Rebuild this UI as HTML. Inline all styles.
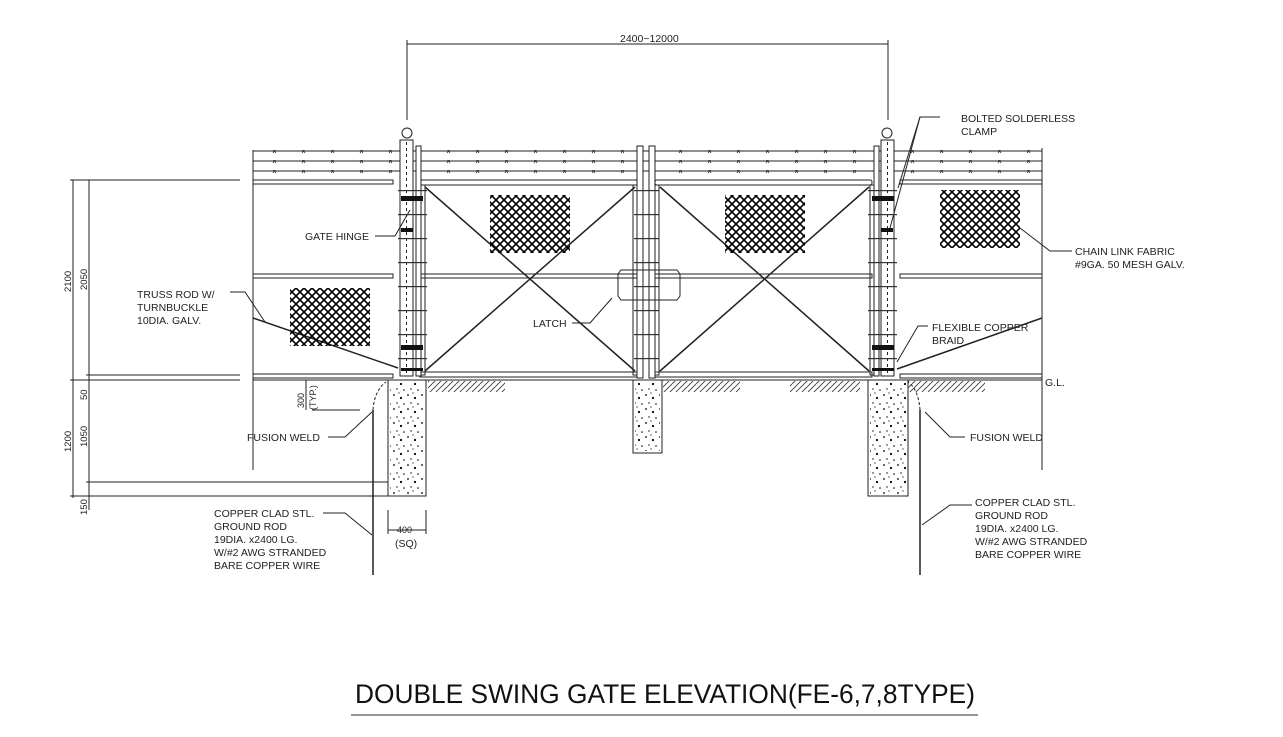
<!DOCTYPE html>
<html><head><meta charset="utf-8"><style>
html,body{margin:0;padding:0;background:#fff;}
svg{display:block;font-family:"Liberation Sans",sans-serif;}
text{fill:#222;}
</style></head><body>
<svg width="1283" height="737" viewBox="0 0 1283 737" xmlns="http://www.w3.org/2000/svg">
<defs>
<pattern id="mesh" width="8" height="8" patternUnits="userSpaceOnUse">
<path d="M0 0L8 8M8 0L0 8" stroke="#000" stroke-width="1.6"/>
</pattern>
<pattern id="xw" width="29" height="10" patternUnits="userSpaceOnUse" x="0" y="0">
<path d="M12 -1L15 3M15 -1L12 3" stroke="#333" stroke-width="0.8"/>
</pattern>
<pattern id="hatch" width="6" height="6" patternUnits="userSpaceOnUse">
<path d="M0 6L6 0M-1 1L1 -1M5 7L7 5" stroke="#333" stroke-width="0.8"/>
</pattern>
<pattern id="conc" width="14" height="14" patternUnits="userSpaceOnUse">
<circle cx="2" cy="3" r="0.9" fill="#000"/><circle cx="9" cy="6" r="1.1" fill="#000"/><circle cx="5" cy="11" r="0.7" fill="#000"/><circle cx="12" cy="12" r="0.8" fill="#000"/><circle cx="7" cy="1" r="0.6" fill="#000"/>
</pattern>
<pattern id="ticks" width="20" height="24" patternUnits="userSpaceOnUse" x="0" y="190">
<rect x="0" y="0" width="20" height="1.2" fill="#333"/>
</pattern>
</defs>
<g stroke="#222" fill="none" stroke-width="1">
<line x1="407" y1="44" x2="888" y2="44"/>
<line x1="407" y1="40" x2="407" y2="120"/>
<line x1="888" y1="40" x2="888" y2="120"/>
<line x1="253" y1="151" x2="1042" y2="151"/>
<line x1="253" y1="161" x2="1042" y2="161"/>
<line x1="253" y1="171" x2="1042" y2="171"/>
</g>
<rect x="253" y="149" width="789" height="25" fill="url(#xw)"/>
<g stroke="#222" fill="none" stroke-width="1">
<line x1="253" y1="150" x2="253" y2="470"/>
<line x1="1042" y1="148" x2="1042" y2="470"/>
<rect x="253" y="180" width="140" height="4"/>
<rect x="253" y="274" width="140" height="4"/>
<rect x="253" y="374" width="140" height="4"/>
<rect x="900" y="180" width="142" height="4"/>
<rect x="900" y="274" width="142" height="4"/>
<rect x="900" y="374" width="142" height="4"/>
<rect x="420" y="180" width="220" height="5" rx="2"/>
<rect x="420" y="274" width="220" height="4"/>
<rect x="420" y="372" width="220" height="5"/>
<rect x="655" y="180" width="217" height="5" rx="2"/>
<rect x="655" y="274" width="217" height="4"/>
<rect x="655" y="372" width="217" height="5"/>
<rect x="400" y="140" width="13" height="236" fill="#fff"/>
<line x1="406.5" y1="142" x2="406.5" y2="374" stroke-dasharray="3,3"/>
<circle cx="407" cy="133" r="5"/>
<rect x="881" y="140" width="13" height="236" fill="#fff"/>
<line x1="887.5" y1="142" x2="887.5" y2="374" stroke-dasharray="3,3"/>
<circle cx="887" cy="133" r="5"/>
<rect x="416" y="146" width="5" height="230" fill="#fff"/>
<rect x="421" y="185" width="4" height="190"/>
<rect x="874" y="146" width="5" height="230" fill="#fff"/>
<rect x="870" y="185" width="4" height="190"/>
<rect x="637" y="146" width="6" height="232" fill="#fff"/>
<rect x="649" y="146" width="6" height="232" fill="#fff"/>
<rect x="633" y="185" width="4" height="190"/>
<rect x="655" y="185" width="4" height="190"/>
<g stroke-width="1.5">
<line x1="425" y1="187" x2="635" y2="371"/>
<line x1="425" y1="371" x2="635" y2="187"/>
<line x1="660" y1="187" x2="869" y2="371"/>
<line x1="660" y1="371" x2="869" y2="187"/>
<line x1="253" y1="318" x2="398" y2="368"/>
<line x1="1042" y1="318" x2="897" y2="369"/>
</g>
<path d="M621 270H677L680 274V296L677 300H621L618 296V274Z"/>
<line x1="253" y1="380" x2="1042" y2="380"/>
<rect x="388" y="380" width="38" height="116"/>
<rect x="633" y="380" width="29" height="73"/>
<rect x="868" y="380" width="40" height="116"/>
<line x1="373" y1="410" x2="373" y2="575" stroke-width="1.5"/>
<line x1="920" y1="410" x2="920" y2="575" stroke-width="1.5"/>
<path d="M373 410C374 395 380 386 386 382" stroke-dasharray="3,2"/>
<path d="M920 410C919 395 914 386 908 382" stroke-dasharray="3,2"/>
<line x1="73" y1="180" x2="73" y2="498"/>
<line x1="89" y1="180" x2="89" y2="510"/>
<line x1="70" y1="180" x2="240" y2="180"/>
<line x1="86" y1="375" x2="240" y2="375"/>
<line x1="70" y1="380" x2="240" y2="380"/>
<line x1="86" y1="482" x2="388" y2="482"/>
<line x1="70" y1="496" x2="388" y2="496"/>
<line x1="312" y1="410" x2="360" y2="410"/>
<line x1="306" y1="380" x2="306" y2="410"/>
<line x1="388" y1="510" x2="388" y2="534"/>
<line x1="426" y1="510" x2="426" y2="534"/>
<line x1="388" y1="530" x2="426" y2="530"/>
<polyline points="375,236 395,236 410,210"/>
<polyline points="230,292 245,292 265,322"/>
<polyline points="572,323 590,323 612,298"/>
<polyline points="940,117 920,117 898,188"/>
<polyline points="940,117 920,117 890,228"/>
<polyline points="1072,251 1050,251 1020,228"/>
<polyline points="928,326 918,326 897,362"/>
<polyline points="328,437 345,437 372,412"/>
<polyline points="965,437 950,437 925,412"/>
<polyline points="323,513 345,513 372,535"/>
<polyline points="972,505 950,505 922,525"/>
<line x1="351" y1="715" x2="978" y2="715" stroke="#555" stroke-width="1.2"/>
</g>
<rect x="398" y="190" width="29" height="180" fill="url(#ticks)"/>
<rect x="868" y="190" width="29" height="180" fill="url(#ticks)"/>
<rect x="634" y="190" width="25" height="180" fill="url(#ticks)"/>
<rect x="490" y="195" width="80" height="58" fill="url(#mesh)"/>
<rect x="725" y="195" width="80" height="58" fill="url(#mesh)"/>
<rect x="940" y="190" width="80" height="58" fill="url(#mesh)"/>
<rect x="290" y="288" width="80" height="58" fill="url(#mesh)"/>
<rect x="428" y="381" width="77" height="11" fill="url(#hatch)"/>
<rect x="663" y="381" width="77" height="11" fill="url(#hatch)"/>
<rect x="790" y="381" width="70" height="11" fill="url(#hatch)"/>
<rect x="908" y="381" width="77" height="11" fill="url(#hatch)"/>
<rect x="390" y="382" width="34" height="112" fill="url(#conc)"/>
<rect x="635" y="382" width="25" height="69" fill="url(#conc)"/>
<rect x="870" y="382" width="36" height="112" fill="url(#conc)"/>
<g fill="#111">
<rect x="401" y="196" width="22" height="5"/><rect x="401" y="228" width="12" height="4"/>
<rect x="401" y="345" width="22" height="5"/><rect x="401" y="368" width="22" height="3"/>
<rect x="872" y="196" width="22" height="5"/><rect x="881" y="228" width="12" height="4"/>
<rect x="872" y="345" width="22" height="5"/><rect x="872" y="368" width="22" height="3"/>
</g>
<g font-size="10.5">
<text x="620" y="42">2400~12000</text>
<text x="305" y="240">GATE HINGE</text>
<text x="137" y="298">TRUSS ROD W/</text>
<text x="137" y="311">TURNBUCKLE</text>
<text x="137" y="324">10DIA. GALV.</text>
<text x="533" y="327">LATCH</text>
<text x="961" y="122">BOLTED SOLDERLESS</text>
<text x="961" y="135">CLAMP</text>
<text x="1075" y="255">CHAIN LINK FABRIC</text>
<text x="1075" y="268">#9GA. 50 MESH GALV.</text>
<text x="932" y="331">FLEXIBLE COPPER</text>
<text x="932" y="344">BRAID</text>
<text x="1045" y="386">G.L.</text>
<text x="247" y="441">FUSION WELD</text>
<text x="970" y="441">FUSION WELD</text>
<text x="214" y="517">COPPER CLAD STL.</text>
<text x="214" y="530">GROUND ROD</text>
<text x="214" y="543">19DIA. x2400 LG.</text>
<text x="214" y="556">W/#2 AWG STRANDED</text>
<text x="214" y="569">BARE COPPER WIRE</text>
<text x="975" y="506">COPPER CLAD STL.</text>
<text x="975" y="519">GROUND ROD</text>
<text x="975" y="532">19DIA. x2400 LG.</text>
<text x="975" y="545">W/#2 AWG STRANDED</text>
<text x="975" y="558">BARE COPPER WIRE</text>
<text x="397" y="533" font-size="9">400</text>
<text x="395" y="547">(SQ)</text>
<text transform="translate(71,292) rotate(-90)" font-size="9.5">2100</text>
<text transform="translate(87,290) rotate(-90)" font-size="9.5">2050</text>
<text transform="translate(87,400) rotate(-90)" font-size="9.5">50</text>
<text transform="translate(71,452) rotate(-90)" font-size="9.5">1200</text>
<text transform="translate(87,447) rotate(-90)" font-size="9.5">1050</text>
<text transform="translate(87,515) rotate(-90)" font-size="9.5">150</text>
<text transform="translate(304,408) rotate(-90)" font-size="9">300</text>
<text transform="translate(316,410) rotate(-90)" font-size="9">(TYP.)</text>
</g>
<text x="355" y="703" font-size="27" textLength="620" lengthAdjust="spacingAndGlyphs" style="fill:#111">DOUBLE SWING GATE ELEVATION(FE-6,7,8TYPE)</text>
</svg>
</body></html>
